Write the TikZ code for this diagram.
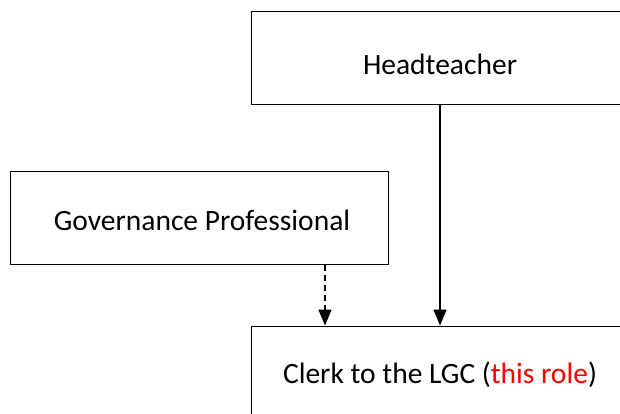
\documentclass[tikz,border=0pt]{standalone}
\usepackage{fontspec}
\setmainfont{Carlito}
\usetikzlibrary{arrows.meta}
\tikzset{
  x=1pt, y=1pt,
  rolebox/.style={draw=black, line width=1pt, fill=white, rectangle,
    minimum width=378pt, minimum height=93pt, inner sep=0pt},
  roletext/.style={inner sep=0pt, text height=19pt, text depth=0pt,
    font=\fontsize{29.5}{34}\selectfont},
  link/.style={draw=black, line width=1.6pt,
    -{Triangle[length=16pt,width=13pt]}},
  dashedlink/.style={link, dash pattern=on 6pt off 4pt}
}
\definecolor{rolered}{RGB}{255,0,0}
\begin{document}
\begin{tikzpicture}
  \useasboundingbox (0,0) rectangle (620,-414);
  \clip (0,0) rectangle (620,-414);
  \fill[white] (0,0) rectangle (620,-414);

  % role boxes
  \node[rolebox] (head) at (440,-58.5) {};
  \node[rolebox] (gov) at (199,-218) {};
  \node[rolebox] (clerk) at (440,-372.5) {};

  % role titles
  \node[roletext] (headtxt) at ([yshift=-6.5pt]head.center) {Headteacher};
  \node[roletext] (govtxt) at ([xshift=3pt,yshift=-2.5pt]gov.center) {Governance Professional};
  \node[roletext] (clerktxt) at ([yshift=-1.5pt]clerk.center) {Clerk to the LGC (\textcolor{rolered}{this role})};

  % reporting lines
  \draw[link] (head.south) -- (clerk.north);
  \draw[dashedlink] ([xshift=126pt]gov.south) -- ([xshift=126pt]gov.south |- clerk.north);
\end{tikzpicture}
\end{document}
